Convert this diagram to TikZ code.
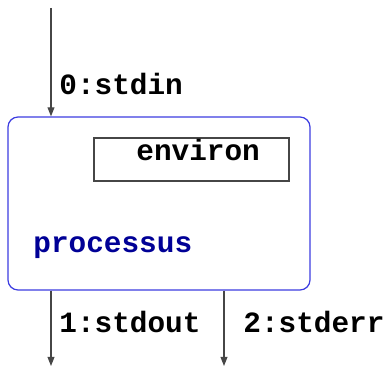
\documentclass[tikz,border=0pt]{standalone}
\usepackage{fontspec}
\setmonofont{Liberation Mono}
\usetikzlibrary{arrows.meta}
\definecolor{procblue}{RGB}{60,60,225}
\definecolor{procname}{RGB}{0,0,150}
\definecolor{wire}{RGB}{70,70,70}
\tikzset{
  lbl/.style={anchor=base west, inner sep=0pt, font=\fontsize{14.7}{16}\selectfont\ttfamily\bfseries},
  wire/.style={draw=wire, line width=0.55pt, -{Triangle[length=4.5pt,width=3.4pt]}},
}
\begin{document}
\begin{tikzpicture}[x=0.5pt,y=-0.5pt]
\useasboundingbox (0,0) rectangle (387,375);
% process box and its environment
\node (proc) [draw=procblue, line width=0.6pt, rounded corners=5pt, minimum width=151pt, minimum height=86.5pt, inner sep=0pt] at (159,203.5) {};
\node (env) [draw=wire, line width=0.55pt, minimum width=97.5pt, minimum height=21.5pt, inner sep=0pt] at (191.5,159.5) {};
\node [lbl] at (136,161) {environ};
\node [lbl, text=procname] at (33,253) {processus};
% standard streams
\coordinate (in) at (51,8);
\coordinate (out) at (51,366);
\coordinate (err) at (224,366);
\draw[wire] (in) -- (in |- proc.north);
\draw[wire] (out |- proc.south) -- (out);
\draw[wire] (err |- proc.south) -- (err);
\node [lbl] at (59,95) {0:stdin};
\node [lbl] at (59,333) {1:stdout};
\node [lbl] at (243,333) {2:stderr};
\end{tikzpicture}
\end{document}
